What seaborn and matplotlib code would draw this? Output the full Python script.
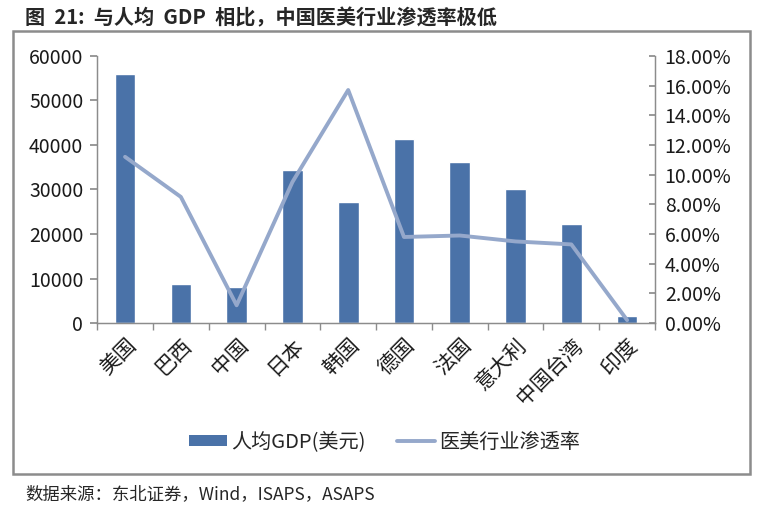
import numpy as np
import pandas as pd
import matplotlib
matplotlib.use('Agg')
import matplotlib.pyplot as plt
import seaborn as sns
from matplotlib.patches import Rectangle, Patch
from matplotlib.lines import Line2D
from matplotlib.ticker import FuncFormatter, MultipleLocator

# Datos.
paises = ['美国', '巴西', '中国', '日本', '韩国', '德国', '法国', '意大利', '中国台湾', '印度']
gdp = [56000, 8700, 8000, 34300, 27200, 41300, 36200, 30000, 22300, 1600]
penetracion = [11.2, 8.5, 1.2, 9.5, 15.7, 5.8, 5.9, 5.5, 5.3, 0.2]

color_barra = '#4A72A8'
color_linea = '#95A8CB'
gris = '#8C8C8C'

sns.set_theme(style='white')
plt.rcParams['font.family'] = ['Noto Sans CJK SC', 'DejaVu Sans']

df = pd.DataFrame({'pais': paises, 'gdp': gdp, 'tasa': penetracion})

fig = plt.figure(figsize=(7.59, 5.08), dpi=100)
ax = fig.add_axes([0.128, 0.364, 0.735, 0.526])

sns.barplot(data=df, x='pais', y='gdp', color=color_barra, width=0.37,
            saturation=1, ax=ax)
ax.set_ylim(0, 60000)
ax.set_xlim(-0.5, len(paises) - 0.5)
ax.yaxis.set_major_locator(MultipleLocator(10000))
ax.set_xlabel('')
ax.set_ylabel('')

ax2 = ax.twinx()
sns.lineplot(x=df.index, y=df['tasa'], sort=False, color=color_linea,
             linewidth=2.8, ax=ax2)
ax2.set_ylim(0, 18)
ax2.yaxis.set_major_locator(MultipleLocator(2))
ax2.yaxis.set_major_formatter(FuncFormatter(lambda v, p: f'{v:.2f}%'))
ax2.set_ylabel('')

# Ejes y marcas.
for a in (ax, ax2):
    a.spines['top'].set_visible(False)
    for lado in ['left', 'right', 'bottom']:
        a.spines[lado].set_color(gris)
        a.spines[lado].set_linewidth(0.9)
ax.tick_params(axis='y', direction='out', length=5, color=gris, left=True,
               labelsize=14, pad=5, labelcolor='#1a1a1a')
ax2.tick_params(axis='y', direction='in', length=4, color=gris, right=True,
                labelsize=14, pad=7, labelcolor='#1a1a1a')
ax.set_xticks(np.arange(len(paises)))
ax.set_xticklabels(paises, rotation=45, ha='right', rotation_mode='anchor',
                   fontsize=15, color='#1a1a1a')
ax.tick_params(axis='x', length=0, pad=8)
ax.set_xticks(np.arange(len(paises) + 1) - 0.5, minor=True)
ax.tick_params(axis='x', which='minor', direction='out', length=5, color=gris,
               bottom=True)

# Leyenda.
manejadores = [Patch(facecolor=color_barra, edgecolor='none'),
               Line2D([0], [0], color=color_linea, linewidth=2.8)]
fig.legend(manejadores, ['人均GDP(美元)', '医美行业渗透率'], loc='center',
           bbox_to_anchor=(0.507, 0.13), ncol=2, frameon=False, fontsize=14.5,
           handlelength=1.9, handleheight=0.5, columnspacing=1.55,
           handletextpad=0.2)

# Marco, título y fuente.
fig.patches.append(Rectangle((0.017, 0.067), 0.971, 0.872, transform=fig.transFigure,
                             fill=False, edgecolor=gris, linewidth=1.8))
fig.text(0.033, 0.965, '图  21:  与人均  GDP  相比，中国医美行业渗透率极低',
         fontsize=14.5, fontweight='bold', va='center', ha='left')
fig.text(0.033, 0.028, '数据来源：东北证券，Wind，ISAPS，ASAPS',
         fontsize=12.5, va='center', ha='left')

fig.savefig('out.png', dpi=100)
